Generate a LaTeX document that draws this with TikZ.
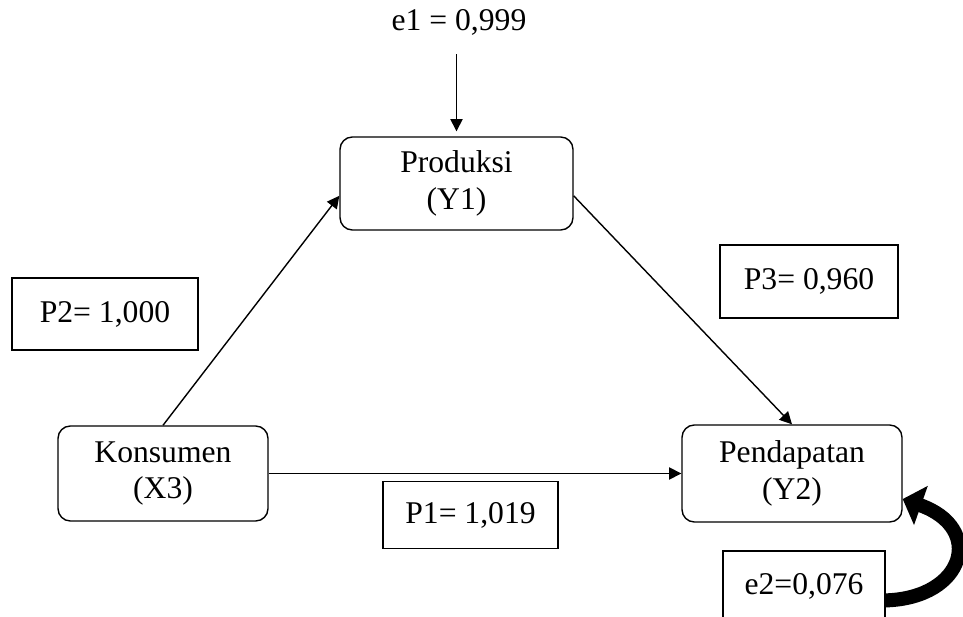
\documentclass[tikz,border=0pt]{standalone}
\usepackage{fontspec}
\setmainfont{Liberation Serif}
\usetikzlibrary{arrows.meta}
\begin{document}
\begin{tikzpicture}[x=0.02cm,y=-0.02cm,
    every node/.style={font=\fontsize{18}{21}\selectfont},
    var/.style={draw,rounded corners=7pt,align=center,line width=0.8pt,inner sep=0pt},
    coef/.style={draw,line width=0.8pt,inner sep=0pt},
    arr/.style={line width=0.8pt,-{Triangle[length=7pt,width=7pt]}}]
\useasboundingbox (0,0) rectangle (963,617);
\clip (0,0) rectangle (963,617);
% variables
\node[var,minimum width=4.66cm,minimum height=1.86cm] (Y1) at (456.5,183.5) {Produksi\\(Y1)};
\node[var,minimum width=4.2cm,minimum height=1.9cm] (X3) at (163,473.5) {Konsumen\\(X3)};
\node[var,minimum width=4.4cm,minimum height=1.94cm] (Y2) at (792,473.5) {Pendapatan\\(Y2)};
% coefficients
\node[inner sep=0pt] (e1) at (459,22) {e1 = 0,999};
\node[coef,minimum width=3.72cm,minimum height=1.44cm] (P2) at (105,314) {P2= 1,000};
\node[coef,minimum width=3.56cm,minimum height=1.46cm] (P3) at (809,281.5) {P3= 0,960};
\node[coef,minimum width=3.5cm,minimum height=1.34cm] (P1) at (470.5,515) {P1= 1,019};
\node[coef,minimum width=3.24cm,minimum height=1.4cm] (e2) at (804,586) {e2=0,076};
% paths
\coordinate (e1end) at ([yshift=-0.38cm]e1.south);
\draw[arr] (e1end -| Y1.north) -- ([yshift=0.1cm]Y1.north);
\draw[arr] (X3.north) -- (Y1.186);
\draw[arr] (Y1.-6) -- (Y2.north);
\draw[arr] (X3.east) -- (Y2.west);
\draw[line width=8pt,-{Triangle[length=11pt,width=23pt]}] (e2.-10) .. controls (965,598) and (985,528) .. (Y2.-13);
\end{tikzpicture}
\end{document}
